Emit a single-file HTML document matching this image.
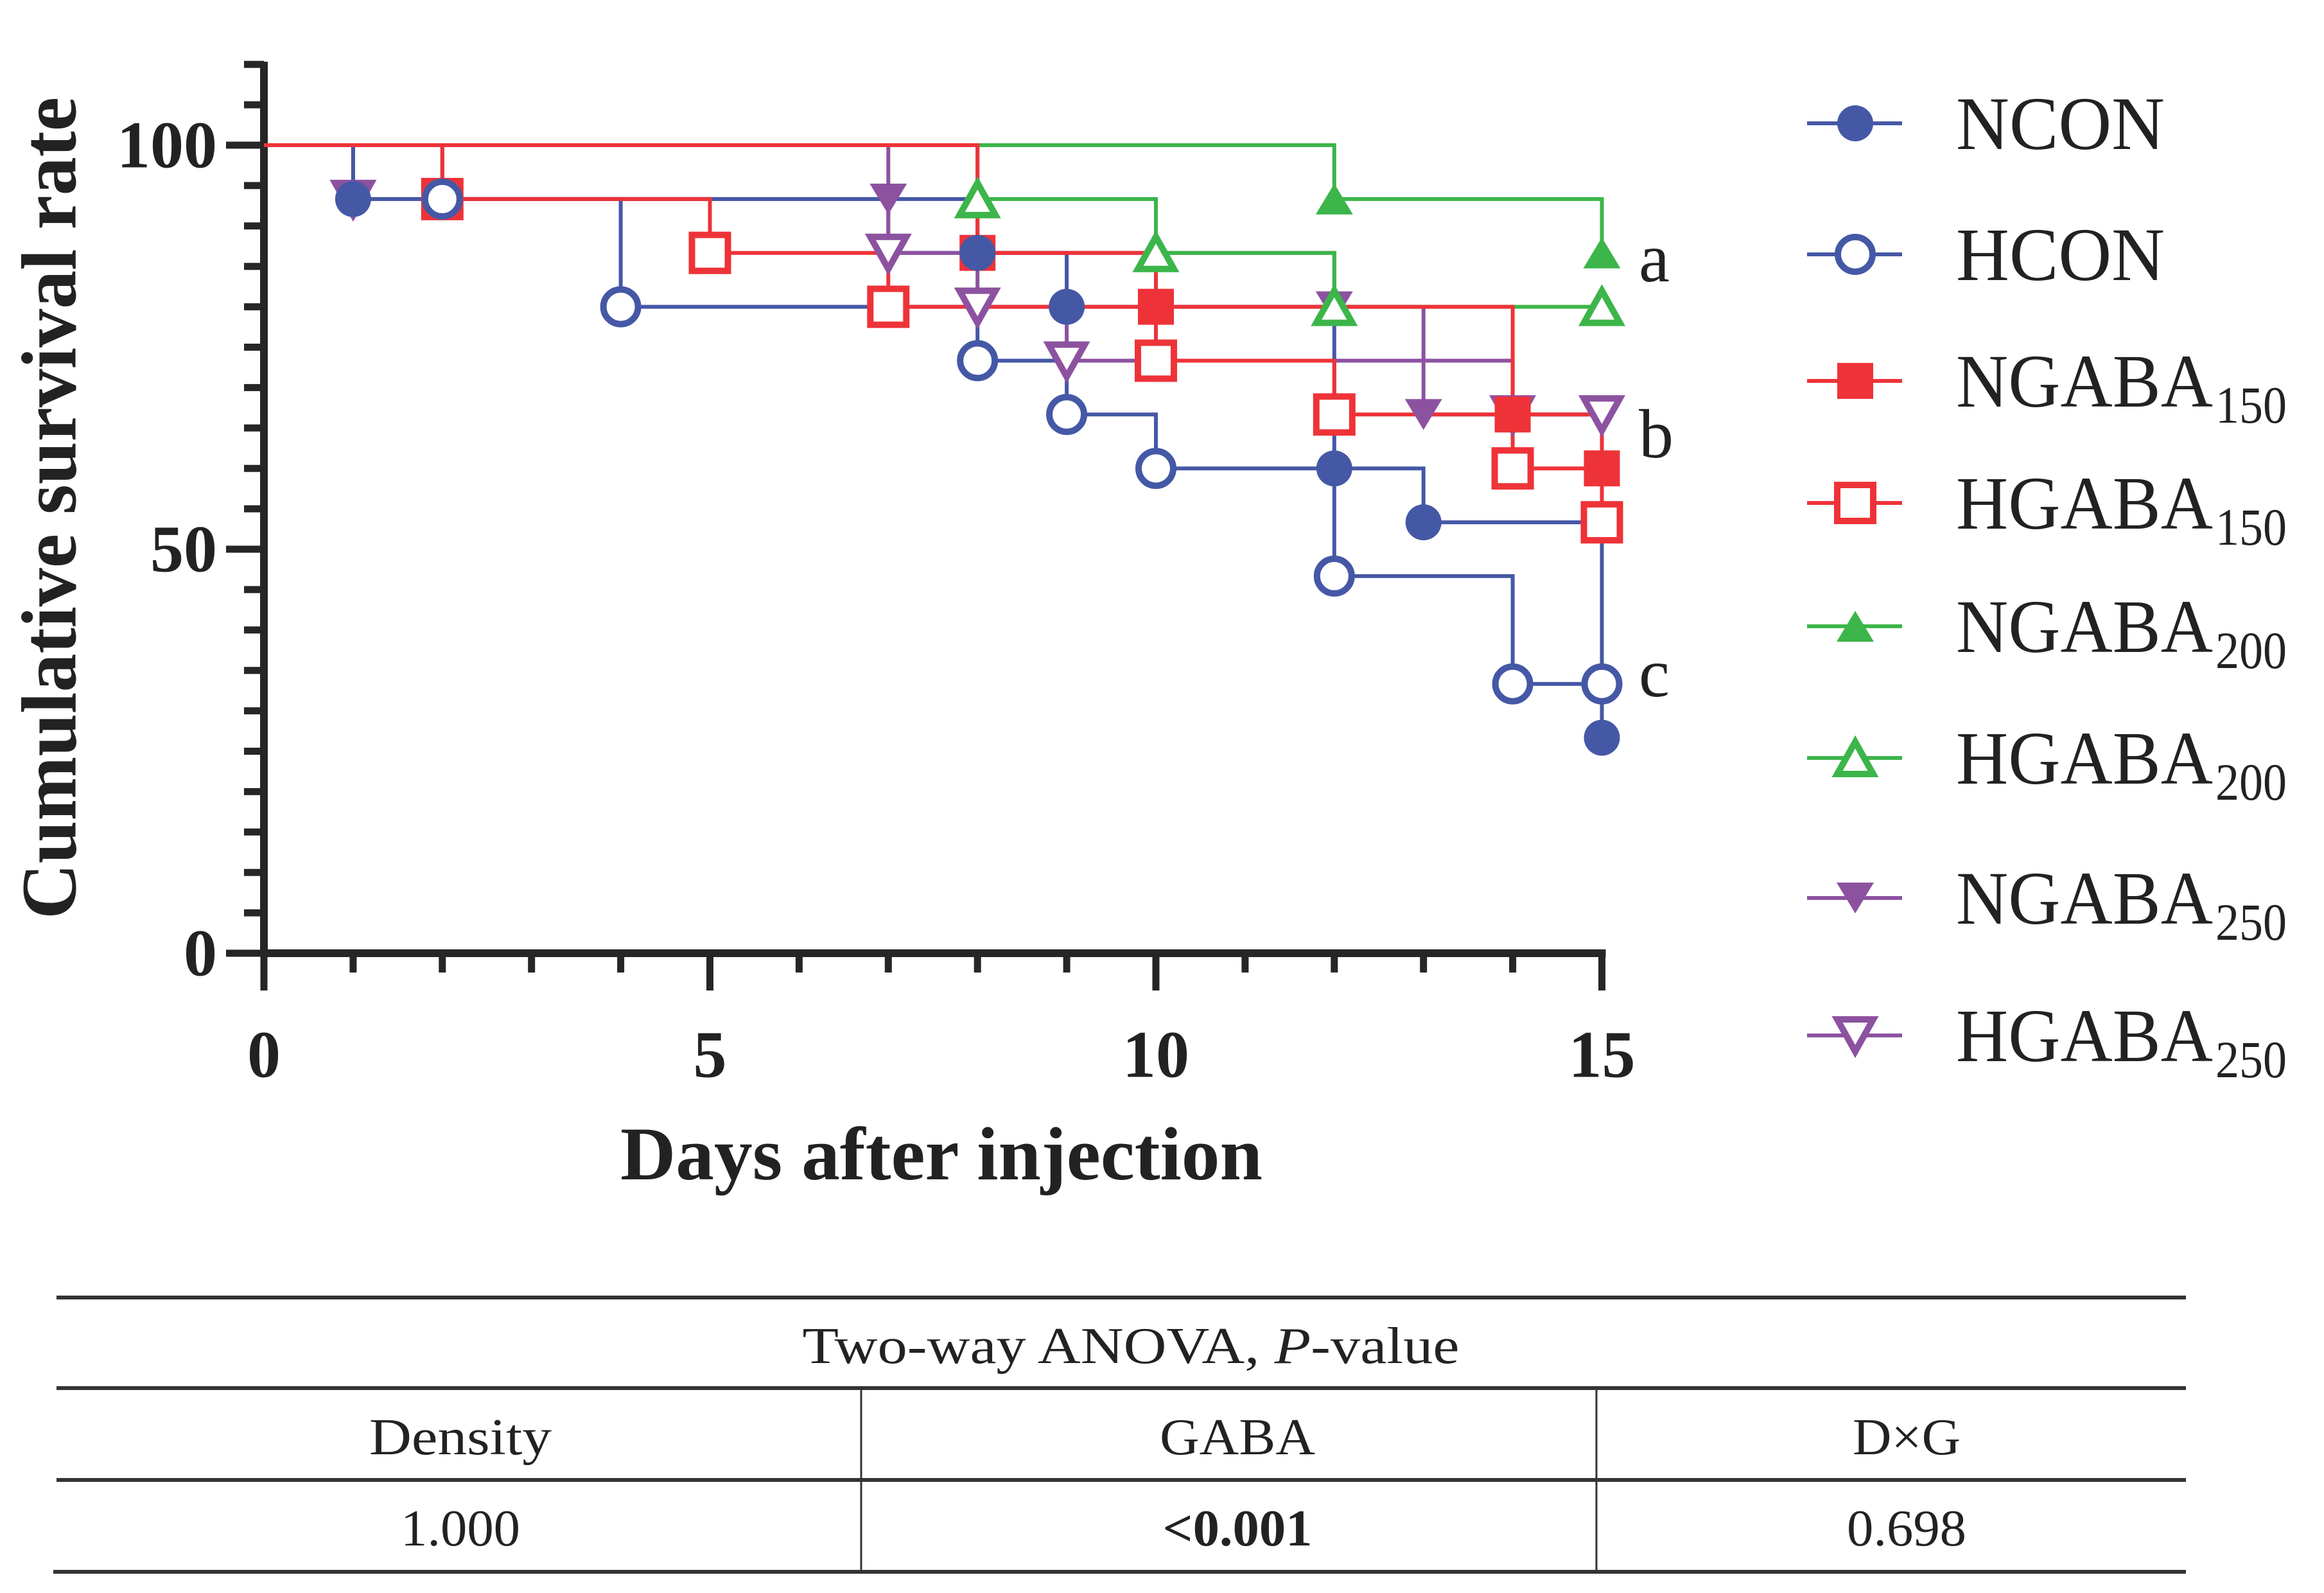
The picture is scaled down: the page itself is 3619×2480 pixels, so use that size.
<!DOCTYPE html>
<html><head><meta charset="utf-8"><style>
html,body{margin:0;padding:0;background:#fff}
svg{display:block}
text{font-family:"Liberation Serif",serif;fill:#222}
</style></head><body>
<svg id="chart" width="3619" height="2480" viewBox="0 0 3619 2480" xmlns="http://www.w3.org/2000/svg">
<g id="axes"></g>
<g id="series"></g>
<g id="markers"></g>
<g id="legend"></g>
<text x="77" y="791" font-size="122" font-weight="bold" text-anchor="middle" dominant-baseline="central" transform="rotate(-90 77 791)" textLength="1280" lengthAdjust="spacingAndGlyphs">Cumulative survival rate</text>
<text x="1466" y="1836" font-size="118" font-weight="bold" text-anchor="middle" textLength="1000" lengthAdjust="spacingAndGlyphs">Days after injection</text>
<text x="2552" y="438" font-size="108">a</text>
<text x="2552" y="712" font-size="108">b</text>
<text x="2552" y="1084" font-size="108">c</text>
<g>
<line x1="88" y1="2020" x2="3404" y2="2020" stroke="#333" stroke-width="6"/>
<line x1="88" y1="2161" x2="3404" y2="2161" stroke="#333" stroke-width="6"/>
<line x1="88" y1="2304" x2="3404" y2="2304" stroke="#333" stroke-width="6"/>
<line x1="83" y1="2447" x2="3404" y2="2447" stroke="#333" stroke-width="6"/>
<line x1="1341" y1="2161" x2="1341" y2="2447" stroke="#333" stroke-width="3"/>
<line x1="2486" y1="2161" x2="2486" y2="2447" stroke="#333" stroke-width="3"/>
<text x="1761" y="2122" font-size="80" text-anchor="middle" textLength="1023" lengthAdjust="spacingAndGlyphs">Two-way ANOVA, <tspan font-style="italic">P</tspan>-value</text>
<text x="717" y="2264" font-size="80" text-anchor="middle" textLength="284" lengthAdjust="spacingAndGlyphs">Density</text>
<text x="1927" y="2264" font-size="80" text-anchor="middle" textLength="242" lengthAdjust="spacingAndGlyphs">GABA</text>
<text x="2969" y="2264" font-size="80" text-anchor="middle" textLength="168" lengthAdjust="spacingAndGlyphs">D×G</text>
<text x="717" y="2406" font-size="80" text-anchor="middle" textLength="186" lengthAdjust="spacingAndGlyphs">1.000</text>
<text x="1927" y="2406" font-size="80" font-weight="bold" text-anchor="middle" textLength="233" lengthAdjust="spacingAndGlyphs">&lt;0.001</text>
<text x="2969" y="2406" font-size="80" text-anchor="middle" textLength="186" lengthAdjust="spacingAndGlyphs">0.698</text>
</g>
</svg>
<script>
// ---- data ----
const groupNames = ["NCON","HCON","NGABA150","HGABA150","NGABA200","HGABA200","NGABA250","HGABA250"];
const ncon_days = [1,8,9,12,13,15];
const ncon_surv = [93.33,86.67,80,60,53.33,26.67];
const hcon_days = [2,4,8,9,10,12,14];
const hcon_surv = [93.33,80,73.33,66.67,60,46.67,33.33];
const ngaba150_days = [8,10,14,15];
const ngaba150_surv = [86.67,80,66.67,60];
const hgaba150_days = [2,5,7,10,12,14,15];
const hgaba150_surv = [93.33,86.67,80,73.33,66.67,60,53.33];
const ngaba200_days = [12,15];
const ngaba200_surv = [93.33,86.67];
const hgaba200_days = [8,10,12];
const hgaba200_surv = [93.33,86.67,80];
const ngaba250_days = [7,7,12,13];
const ngaba250_surv = [93.33,86.67,80,66.67];
const hgaba250_days = [1,7,8,9,14];
const hgaba250_surv = [93.33,86.67,80,73.33,66.67];
const xTickLabels = ["0","5","10","15"];
const yTickLabels = ["0","50","100"];
const legendSubs = ["","","150","150","200","200","250","250"];
const legendBases = ["NCON","HCON","NGABA","HGABA","NGABA","HGABA","NGABA","HGABA"];

const NS="http://www.w3.org/2000/svg";
const X0=411, PXD=138.9, Y0=1484, PXV=12.58, END=15;
const xs=d=>X0+d*PXD, ys=v=>Y0-v*PXV;
function mk(tag,attrs,parent){const e=document.createElementNS(NS,tag);for(const k in attrs)e.setAttribute(k,attrs[k]);parent.appendChild(e);return e;}

const axes=document.getElementById('axes');
let e=mk('line',{x1:X0,y1:96,x2:X0,y2:Y0+6,stroke:'#262626','stroke-width':12},axes);


e=mk('line',{x1:X0-6,y1:Y0,x2:xs(15)+6,y2:Y0,stroke:'#262626','stroke-width':12},axes);


for(let v=0;v<=110;v+=5){
  const major=v%50===0;
  e=mk('line',{x1:major?352:380,y1:ys(v),x2:X0,y2:ys(v),stroke:'#262626','stroke-width':11},axes);
  
  
}
yTickLabels.forEach(l=>{
  const v=+l;
  e=mk('text',{x:338,y:ys(v),'font-size':104,'font-weight':'bold','text-anchor':'end','dominant-baseline':'central'},axes);
  e.textContent=l;
  
  
});
for(let d=0;d<=15;d++){
  const major=d%5===0;
  e=mk('line',{x1:xs(d),y1:Y0,x2:xs(d),y2:major?1542:1514,stroke:'#262626','stroke-width':11},axes);
  
  
}
xTickLabels.forEach(l=>{
  const d=+l;
  e=mk('text',{x:xs(d),y:1642,'font-size':104,'font-weight':'bold','text-anchor':'middle','dominant-baseline':'central'},axes);
  e.textContent=l;
  
  
});

const colors=['#4558a6','#4558a6','#ee3338','#ee3338','#3cb54a','#3cb54a','#8c52a0','#8c52a0'];
const shapes=['circle','circle','square','square','tri','tri','dtri','dtri'];
const filled=[true,false,true,false,true,false,true,false];
const allDays=[ncon_days,hcon_days,ngaba150_days,hgaba150_days,ngaba200_days,hgaba200_days,ngaba250_days,hgaba250_days];
const allSurv=[ncon_surv,hcon_surv,ngaba150_surv,hgaba150_surv,ngaba200_surv,hgaba200_surv,ngaba250_surv,hgaba250_surv];
const lineOrder=[6,7,0,1,4,5,2,3];
const markerOrder=[6,7,2,3,4,5,1,0];

function marker(g,shape,fill,col,cx,cy){
  const sw=fill?0:10, f=fill?col:'#fff';
  let m;
  if(shape==='circle'){m=mk('circle',{cx:cx,cy:cy,r:fill?28:27,fill:f,stroke:col,'stroke-width':sw},g);}
  else if(shape==='square'){const s=56;m=mk('rect',{x:cx-s/2,y:cy-s/2,width:s,height:s,fill:f,stroke:col,'stroke-width':sw},g);}
  else if(shape==='tri'){const w=fill?58:56,h=fill?48:50;m=mk('polygon',{points:`${cx-w/2},${cy+h/2} ${cx+w/2},${cy+h/2} ${cx},${cy-h/2}`,fill:f,stroke:col,'stroke-width':sw},g);}
  else {const w=fill?58:56,h=fill?48:50;m=mk('polygon',{points:`${cx-w/2},${cy-h/2} ${cx+w/2},${cy-h/2} ${cx},${cy+h/2}`,fill:f,stroke:col,'stroke-width':sw},g);}
  return m;
}

const sg=document.getElementById('series');
const mg=document.getElementById('markers');
lineOrder.forEach(i=>{
  const days=allDays[i], surv=allSurv[i], col=colors[i];
  let d=`M${xs(0)},${ys(100)}`;
  days.forEach((t,k)=>{d+=` H${xs(t)} V${ys(surv[k])}`;});
  if(days[days.length-1]<END) d+=` H${xs(END)}`;
  const p=mk('path',{d:d,fill:'none',stroke:col,'stroke-width':6},sg);
  
  
});
markerOrder.forEach(i=>{
  const days=allDays[i], surv=allSurv[i], col=colors[i];
  const g=mk('g',{},mg);
  
  
  const pts=days.map((t,k)=>[t,surv[k]]);
  const last=days[days.length-1];
  if(last<END) pts.push([END,surv[surv.length-1]]);
  pts.forEach(pt=>{
    const m=marker(g,shapes[i],filled[i],col,xs(pt[0]),ys(pt[1]));
    
    
  });
});

const lg=document.getElementById('legend');
const rowY=[192,396,593,783,975,1180,1398,1612];
groupNames.forEach((n,i)=>{
  const g=mk('g',{},lg);
  
  
  const y=rowY[i];
  const l=mk('line',{x1:2814,y1:y,x2:2962,y2:y,stroke:colors[i],'stroke-width':6},g);
  
  
  const m=marker(g,shapes[i],filled[i],colors[i],2889,y);
  
  
  const t=mk('text',{x:3046,y:y+40,'font-size':118,textLength:legendSubs[i]?400:325,lengthAdjust:'spacingAndGlyphs'},g);
  t.textContent=legendBases[i];
  
  
  if(legendSubs[i]){
    const s=mk('text',{x:3450,y:y+65,'font-size':82,textLength:111,lengthAdjust:'spacingAndGlyphs'},g);
    s.textContent=legendSubs[i];
    
    
  }
});
</script>
</body></html>
